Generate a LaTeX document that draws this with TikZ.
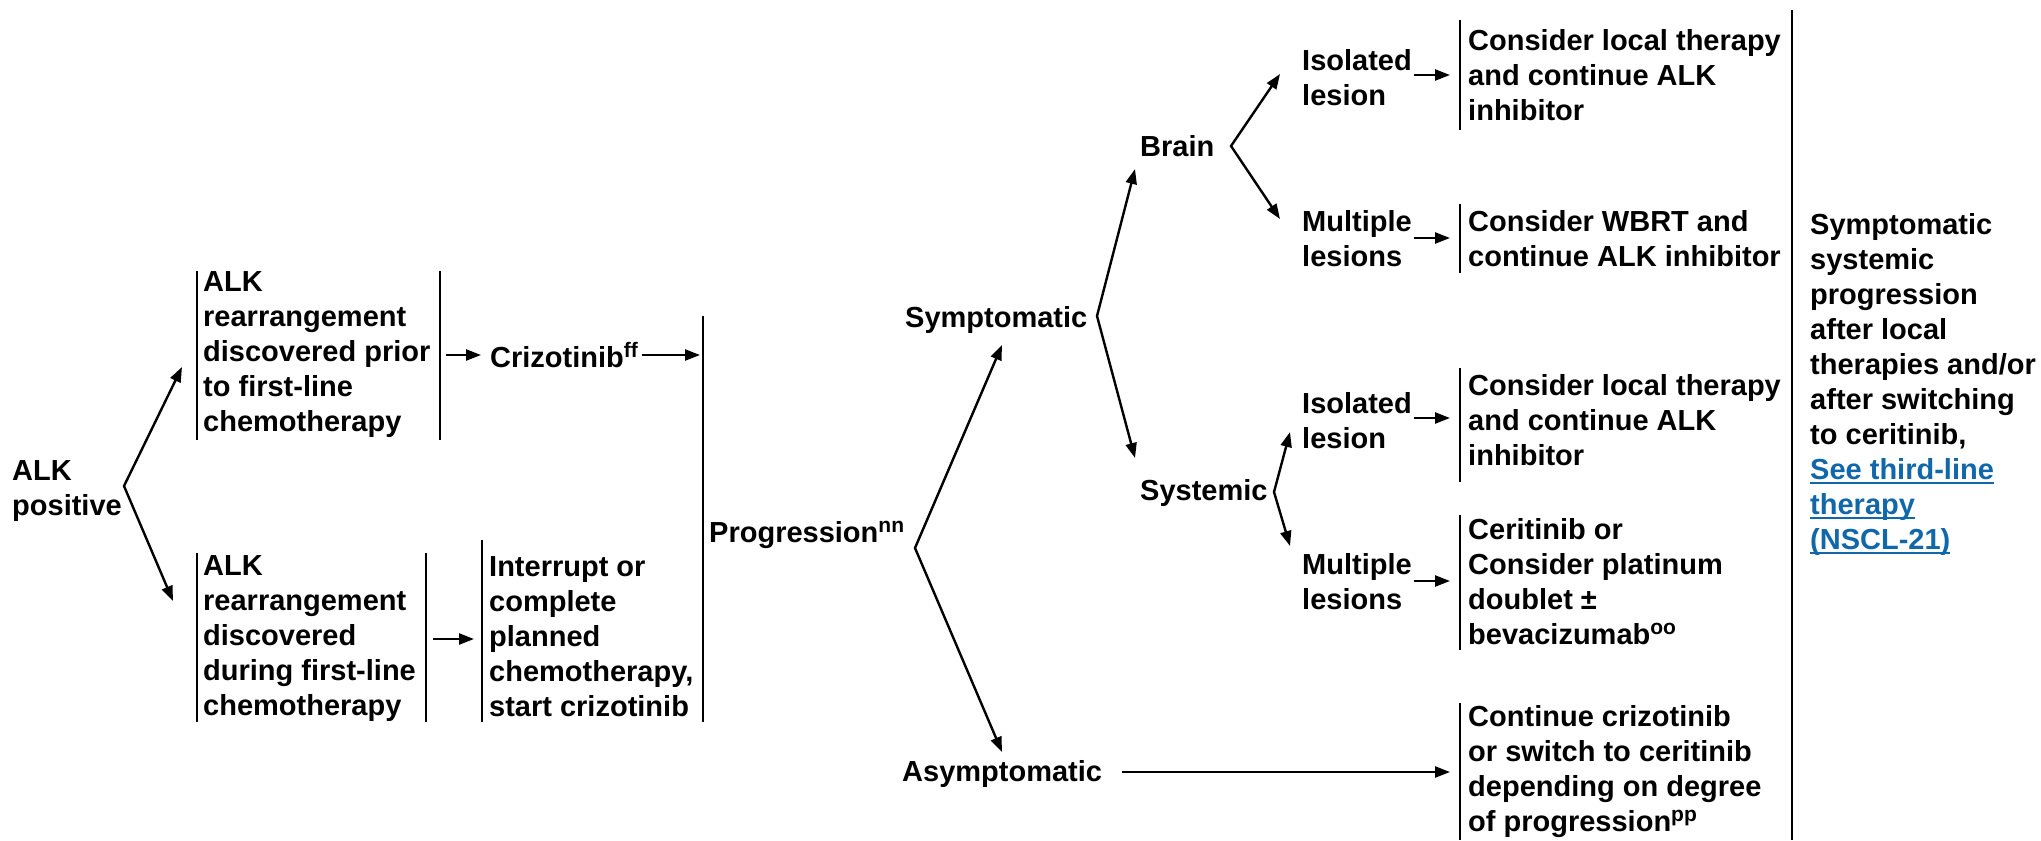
\documentclass[tikz,border=0pt]{standalone}
\usepackage{fontspec}
\setmainfont{Liberation Sans}
\usetikzlibrary{arrows.meta}
\definecolor{linkblue}{RGB}{16,103,170}
\newcommand\lnkline[1]{\setbox0\hbox{#1}\leavevmode\rlap{\copy0}\rule[-4.5pt]{\wd0}{2pt}}
\newcommand\sps[1]{\raisebox{0.36em}{\fontsize{21}{21}\selectfont #1}}
\begin{document}
\begin{tikzpicture}[x=1pt,y=-1pt,
  txt/.style={font=\fontsize{29}{35}\selectfont\bfseries, align=left, inner sep=0pt, anchor=west},
  bar/.style={line width=2.4pt},
  arr/.style={line width=2.4pt, -{Triangle[length=15pt,width=11pt]}},
  fork/.style={line width=2.4pt, {Triangle[length=15pt,width=11pt]}-{Triangle[length=15pt,width=11pt]}}]
\useasboundingbox (0,0) rectangle (2041,840);
% first column
\node[txt] (alk) at (12,491) {ALK\\positive};
\coordinate (v1) at (124,486);
\coordinate (t1) at (182,367);
\coordinate (t2) at (173,601);
\draw[fork] (t1) -- (v1) -- (t2);
% box 1
\draw[bar] (197,271) -- (197,440);
\draw[bar] (440,271) -- (440,440);
\node[txt] (box1) at (203,355) {ALK\\rearrangement\\discovered prior\\to first-line\\chemotherapy};
\coordinate (a1s) at (446,355);
\coordinate (a1e) at (481,355);
\node[txt] (criz) at (490,355) {Crizotinib\sps{ff}};
\draw[arr] (a1s) -- (a1e);
\coordinate (a2s) at (642,355);
\coordinate (p1) at (700,355);
\draw[arr] (a2s) -- (p1);
% box 2
\draw[bar] (197,553) -- (197,722);
\draw[bar] (426,553) -- (426,722);
\node[txt] (box2) at (203,639) {ALK\\rearrangement\\discovered\\during first-line\\chemotherapy};
\coordinate (a3s) at (433,639);
\coordinate (a3e) at (474,639);
\draw[arr] (a3s) -- (a3e);
\draw[bar] (482,540) -- (482,722);
\node[txt] (box3) at (489,637) {Interrupt or\\complete\\planned\\chemotherapy,\\start crizotinib};
% progression
\draw[bar] (703,316) -- (703,722);
\node[txt] (prog) at (709,535) {Progression\sps{nn}};
\coordinate (v2) at (915,548);
\coordinate (t3) at (1002,345);
\coordinate (t4) at (1002,752);
\draw[fork] (t3) -- (v2) -- (t4);
\node[txt] (sym) at (905,320) {Symptomatic};
\node[txt] (asym) at (902,774) {Asymptomatic};
\coordinate (v3) at (1097,316);
\coordinate (t5) at (1135,169);
\coordinate (t6) at (1135,458);
\draw[fork] (t5) -- (v3) -- (t6);
\node[txt] (brain) at (1140,146) {Brain};
\node[txt] (syst) at (1140,493) {Systemic};
\coordinate (v4) at (1231,146);
\coordinate (t7) at (1280,74);
\coordinate (t8) at (1280,219);
\draw[fork] (t7) -- (v4) -- (t8);
\coordinate (v5) at (1274,492);
\coordinate (t9) at (1290,432);
\coordinate (t10) at (1290,546);
\draw[fork] (t9) -- (v5) -- (t10);
% lesions
\node[txt] (iso1) at (1302,78) {Isolated\\lesion};
\node[txt] (mul1) at (1302,239) {Multiple\\lesions};
\node[txt] (iso2) at (1302,421) {Isolated\\lesion};
\node[txt] (mul2) at (1302,582) {Multiple\\lesions};
\coordinate (e1) at (1450,75);
\coordinate (e2) at (1450,238);
\coordinate (e3) at (1450,418);
\coordinate (e4) at (1450,581);
\coordinate (e5) at (1450,772);
\draw[arr] (1414,75) -- (e1);
\draw[arr] (1414,238) -- (e2);
\draw[arr] (1414,418) -- (e3);
\draw[arr] (1414,581) -- (e4);
\draw[arr] (1122,772) -- (e5);
% outcome boxes
\draw[bar] (1460,20) -- (1460,130);
\node[txt] (o1) at (1468,75) {Consider local therapy\\and continue ALK\\inhibitor};
\draw[bar] (1460,204) -- (1460,273);
\node[txt] (o2) at (1468,239) {Consider WBRT and\\continue ALK inhibitor};
\draw[bar] (1460,368) -- (1460,482);
\node[txt] (o3) at (1468,420) {Consider local therapy\\and continue ALK\\inhibitor};
\draw[bar] (1460,515) -- (1460,650);
\node[txt] (o4) at (1468,582) {Ceritinib or\\Consider platinum\\doublet \textpm\\bevacizumab\sps{oo}};
\draw[bar] (1460,703) -- (1460,840);
\node[txt] (o5) at (1468,772) {Continue crizotinib\\or switch to ceritinib\\depending on degree\\of progression\sps{pp}};
% right column
\draw[bar] (1792,10) -- (1792,840);
\node[txt] (final) at (1810,384) {Symptomatic\\systemic\\progression\\after local\\therapies and/or\\after switching\\to ceritinib,\\\textcolor{linkblue}{\lnkline{See third-line}}\\\textcolor{linkblue}{\lnkline{therapy}}\\\textcolor{linkblue}{\lnkline{(NSCL-21)}}};
\end{tikzpicture}
\end{document}
